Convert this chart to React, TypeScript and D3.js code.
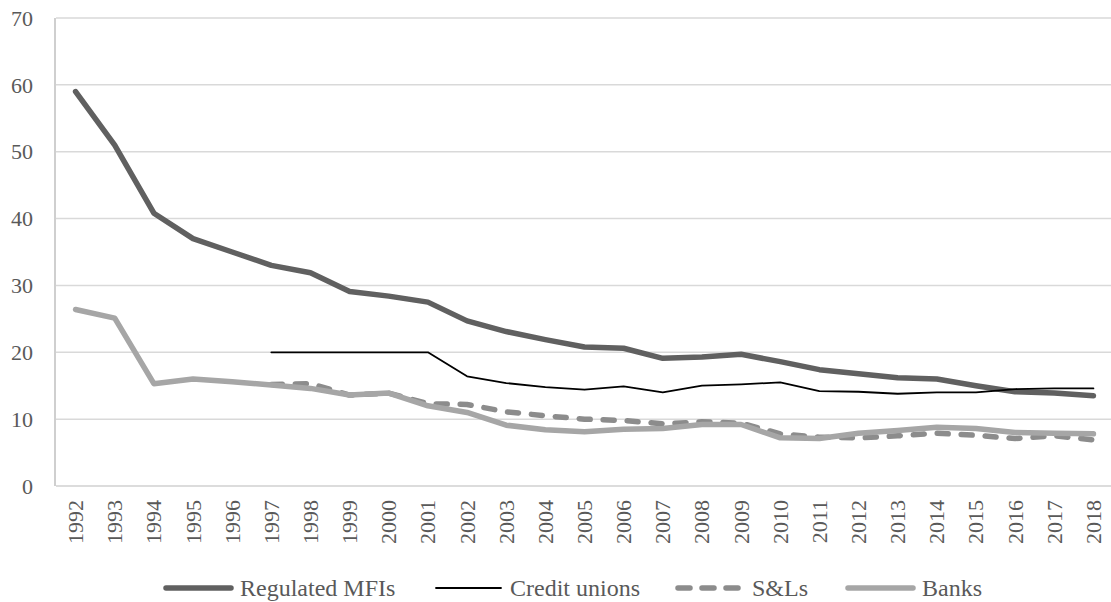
import React from "react";
import * as d3 from "d3";

const years = ["1992","1993","1994","1995","1996","1997","1998","1999","2000","2001","2002","2003","2004","2005","2006","2007","2008","2009","2010","2011","2012","2013","2014","2015","2016","2017","2018"];
const regulatedMFIs: (number | null)[] = [59.0, 51.0, 40.8, 37.0, 35.0, 33.0, 31.9, 29.1, 28.4, 27.5, 24.7, 23.1, 21.9, 20.8, 20.6, 19.1, 19.3, 19.7, 18.6, 17.4, 16.8, 16.2, 16.0, 15.0, 14.1, 13.9, 13.5];
const creditUnions: (number | null)[] = [null, null, null, null, null, 20, 20, 20, 20, 20, 16.4, 15.4, 14.8, 14.4, 14.9, 14.0, 15.0, 15.2, 15.5, 14.2, 14.1, 13.8, 14.0, 14.0, 14.5, 14.6, 14.6];
const sAndLs: (number | null)[] = [null, null, null, null, null, 15.2, 15.3, 13.6, 13.9, 12.3, 12.2, 11.1, 10.5, 10.0, 9.8, 9.3, 9.6, 9.4, 7.8, 7.3, 7.2, 7.5, 7.9, 7.6, 7.1, 7.5, 6.9];
const banks: (number | null)[] = [26.4, 25.1, 15.3, 16.0, 15.6, 15.1, 14.6, 13.6, 13.9, 12.0, 11.0, 9.1, 8.4, 8.1, 8.5, 8.6, 9.2, 9.2, 7.2, 7.1, 7.9, 8.3, 8.8, 8.6, 8.0, 7.9, 7.8];
const yTicks = [0, 10, 20, 30, 40, 50, 60, 70];

const seriesNames = ["Regulated MFIs", "Credit unions", "S&Ls", "Banks"];

const W = 1111, H = 602;
const left = 56, right = 1113, top = 18, bottom = 486;
const FONT = "Liberation Serif";
const TEXT = "#595959";

const styles = [
  { color: "#606060", width: 5.5, dash: null as string | null },
  { color: "#000000", width: 1.8, dash: null as string | null },
  { color: "#8c8c8c", width: 5.5, dash: "11,13" },
  { color: "#a6a6a6", width: 5.5, dash: null as string | null },
];

const legendX = [163, 433, 675, 845];

const txtStyle = { fontFamily: FONT };

export default function App() {
  const x = d3.scaleBand<string>().domain(years).range([left, right]);
  const y = d3.scaleLinear().domain([0, 70]).range([bottom, top]);
  const cx = (yr: string) => (x(yr) as number) + x.bandwidth() / 2;
  const line = d3
    .line<[string, number | null]>()
    .defined((d) => d[1] !== null)
    .x((d) => cx(d[0]))
    .y((d) => y(d[1] as number));

  const data = [regulatedMFIs, creditUnions, sAndLs, banks];

  return (
    <svg width={W} height={H} style={{ position: "absolute", left: 0, top: 0, background: "#fff", fontFamily: FONT }}>
      <rect x={0} y={0} width={W} height={H} fill="#fff" />
      {yTicks.map((t) => (
        <g key={t}>
          {t > 0 && (
            <line x1={left} x2={W} y1={y(t)} y2={y(t)} stroke="#d9d9d9" strokeWidth={1.5} />
          )}
          <text x={33} y={y(t)} dy="0.35em" textAnchor="end" fontSize={22} fill={TEXT} style={txtStyle}>
            {t}
          </text>
        </g>
      ))}
      <line x1={left} x2={W} y1={bottom} y2={bottom} stroke="#d0d0d0" strokeWidth={1.5} />
      <line x1={left - 1} x2={left - 1} y1={top} y2={bottom} stroke="#bfbfbf" strokeWidth={1.5} />
      {years.map((yr) => (
        <text
          key={yr}
          transform={`translate(${cx(yr)},${bottom + 14}) rotate(-90)`}
          textAnchor="end"
          dy="0.34em"
          fontSize={22}
          fill={TEXT}
          style={txtStyle}
        >
          {yr}
        </text>
      ))}
      {data.map((vals, i) => (
        <path
          key={i}
          d={line(years.map((yr, j) => [yr, vals[j]] as [string, number | null])) || ""}
          fill="none"
          stroke={styles[i].color}
          strokeWidth={styles[i].width}
          strokeDasharray={styles[i].dash || undefined}
          strokeLinecap="round"
          strokeLinejoin="round"
        />
      ))}
      {seriesNames.map((name, i) => (
        <g key={name}>
          <line
            x1={legendX[i] + 3}
            x2={legendX[i] + 68}
            y1={588}
            y2={588}
            stroke={styles[i].color}
            strokeWidth={styles[i].width}
            strokeDasharray={styles[i].dash ? "12,12" : undefined}
            strokeLinecap="round"
          />
          <text x={legendX[i] + 77} y={596} fontSize={24} fill={TEXT} style={txtStyle}>
            {name}
          </text>
        </g>
      ))}
    </svg>
  );
}
